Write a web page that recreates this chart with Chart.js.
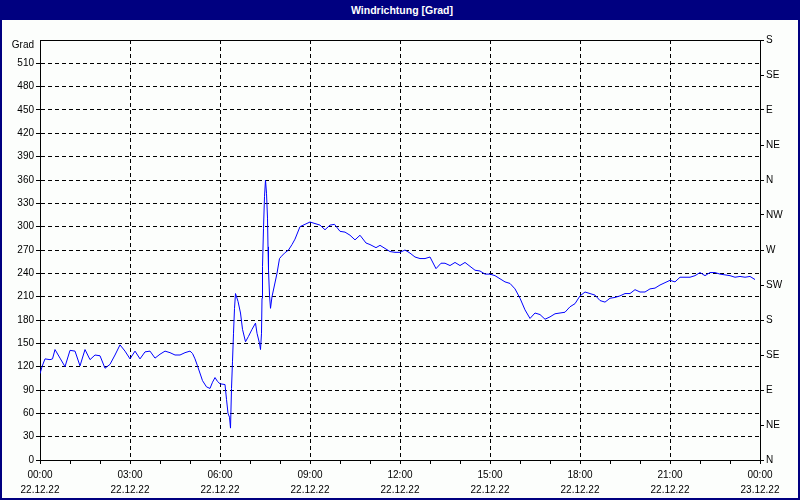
<!DOCTYPE html>
<html>
<head>
<meta charset="utf-8">
<script src="https://cdn.jsdelivr.net/npm/chart.js@4/dist/chart.umd.min.js"></script>
<style>
  html, body { margin: 0; padding: 0; background: #ffffff; }
  #frame { position: relative; width: 800px; height: 500px; box-sizing: border-box;
           background: #fcfefc; border: 2px solid #000080; border-top: none; overflow: hidden; }
  #titlebar { position: absolute; left: 0; top: 0; width: 800px; height: 20px; background: #000080;
              color: #ffffff; font: bold 10.5px "Liberation Sans", Arial, sans-serif; text-align: center;
              line-height: 20px; }
  #c { position: absolute; left: -2px; top: 0; }
</style>
</head>
<body>
<div id="frame">
  <canvas id="c" width="800" height="500"></canvas>
  <div id="titlebar">Windrichtung [Grad]</div>
</div>
<script>
// time of each reading, minutes after 22.12.22 00:00
const timesMin = [
  0, 4, 10, 20, 25, 30, 40, 50, 60, 70, 80, 90, 100, 110, 120, 130, 140, 150, 160, 170,
  180, 190, 200, 210, 220, 230, 240, 250, 260, 270, 280, 290, 300, 305, 310, 315, 325, 333, 340, 345,
  350, 355, 360, 370, 373, 376, 379, 381, 383, 385, 387, 389, 391, 396, 401, 405, 411, 417, 424, 431,
  434, 439, 441, 443, 444, 445, 447, 449, 451, 453, 455, 456, 457, 459, 461, 464, 469, 474, 479, 483,
  489, 497, 504, 510, 520, 530, 540, 550, 560, 570, 580, 589, 600, 610, 620, 630, 640, 652, 660, 672,
  680, 690, 700, 710, 720, 730, 740, 750, 760, 770, 780, 792, 802, 810, 820, 830, 840, 850, 860, 870,
  880, 890, 900, 910, 920, 930, 940, 950, 960, 970, 980, 990, 1000, 1010, 1020, 1030, 1040, 1050, 1060, 1070,
  1080, 1090, 1100, 1110, 1120, 1130, 1140, 1150, 1160, 1170, 1180, 1190, 1200, 1210, 1220, 1230, 1240, 1250, 1260, 1270,
  1280, 1290, 1300, 1310, 1320, 1330, 1340, 1350, 1360, 1370, 1380, 1390, 1400, 1410, 1420, 1430
];
// wind direction in degrees
const windDeg = [
  111, 120, 130, 129, 130, 142, 131, 120, 141, 140, 121, 142, 129, 135, 134, 118, 123, 135, 148, 140,
  130, 140, 130, 139, 140, 131, 136, 140, 138, 135, 135, 138, 140, 137, 130, 121, 102, 94, 92, 100,
  106, 101, 98, 97, 78, 60, 55, 41, 92, 127, 163, 195, 214, 204, 189, 168, 152, 159, 168, 176,
  163, 150, 142, 163, 208, 249, 298, 339, 360, 343, 311, 274, 244, 212, 195, 210, 225, 240, 259, 262,
  266, 270, 277, 284, 300, 303, 306, 304, 302, 296, 302, 303, 294, 293, 289, 283, 289, 279, 277, 273,
  276, 272, 268, 267, 267, 270, 266, 261, 259, 259, 261, 246, 253, 253, 250, 254, 250, 254, 249, 244,
  243, 239, 239, 237, 233, 229, 227, 220, 208, 193, 182, 189, 187, 181, 184, 188, 189, 190, 197, 201,
  211, 216, 214, 212, 205, 203, 208, 209, 211, 214, 214, 219, 216, 216, 220, 221, 225, 228, 231, 229,
  235, 235, 235, 237, 241, 237, 241, 241, 239, 238, 237, 235, 236, 235, 236, 232
];
const hourLabels = ['00:00','03:00','06:00','09:00','12:00','15:00','18:00','21:00','00:00'];
const dateLabels = ['22.12.22','22.12.22','22.12.22','22.12.22','22.12.22','22.12.22','22.12.22','22.12.22','23.12.22'];
const compassLabels = ['N','NE','E','SE','S','SW','W','NW','N','NE','E','SE','S'];
const leftTopLabel = 'Grad';

const points = timesMin.map((t, i) => ({ x: t, y: windDeg[i] }));
const FONT = { family: '"Liberation Sans", Arial, sans-serif', size: 10 };

const topBorder = {
  id: 'topBorder',
  afterDraw(chart) {
    const a = chart.chartArea, ctx = chart.ctx;
    ctx.save();
    ctx.strokeStyle = '#000';
    ctx.lineWidth = 1;
    ctx.beginPath();
    ctx.moveTo(a.left, Math.round(a.top) + 0.5);
    ctx.lineTo(a.right, Math.round(a.top) + 0.5);
    ctx.stroke();
    ctx.restore();
  }
};

new Chart(document.getElementById('c'), {
  type: 'line',
  data: {
    datasets: [{
      data: points,
      borderColor: '#0000ff',
      borderWidth: 1,
      pointRadius: 0,
      tension: 0,
      fill: false,
      yAxisID: 'y'
    }]
  },
  options: {
    responsive: false,
    animation: false,
    events: [],
    layout: { padding: { top: 40, left: 0, right: 0, bottom: 0 } },
    plugins: { legend: { display: false }, tooltip: { enabled: false }, title: { display: false } },
    scales: {
      x: {
        type: 'linear',
        min: 0, max: 1440,
        afterFit(s) { s.height = 40; },
        afterBuildTicks(s) { s.ticks = []; for (let v = 0; v <= 1440; v += 60) s.ticks.push({ value: v }); },
        ticks: {
          autoSkip: false, maxRotation: 0, minRotation: 0,
          color: '#000', font: { ...FONT, lineHeight: 1.55 }, padding: 3,
          callback(v) { return v % 180 === 0 ? [hourLabels[v / 180], dateLabels[v / 180]] : ''; }
        },
        grid: {
          color: (ctx) => (ctx.tick && ctx.tick.value % 180 === 0) ? '#000' : 'rgba(0,0,0,0)',
          tickColor: '#000', tickLength: 4, lineWidth: 1
        },
        border: { display: true, color: '#000', width: 1, dash: [4, 3] }
      },
      y: {
        position: 'left',
        min: 0, max: 540,
        afterFit(s) { s.width = 40; },
        ticks: {
          autoSkip: false,
          stepSize: 30, color: '#000', font: { ...FONT, lineHeight: 1.1 }, padding: 2,
          callback(v) { return v === 540 ? ['', leftTopLabel] : String(v); }
        },
        grid: { color: '#000', tickColor: (ctx) => (ctx.tick && ctx.tick.value === 540) ? 'rgba(0,0,0,0)' : '#000', tickLength: 4, lineWidth: 1 },
        border: { display: true, color: '#000', width: 1, dash: [4, 3] }
      },
      y2: {
        position: 'right',
        min: 0, max: 540,
        afterFit(s) { s.width = 40; },
        ticks: {
          autoSkip: false,
          stepSize: 45, color: '#000', font: FONT, padding: 2,
          callback(v) { return compassLabels[Math.round(v / 45)]; }
        },
        grid: { drawOnChartArea: false, tickColor: '#000', tickLength: 4 },
        border: { display: true, color: '#000', width: 1 }
      }
    }
  },
  plugins: [topBorder]
});
</script>
</body>
</html>
